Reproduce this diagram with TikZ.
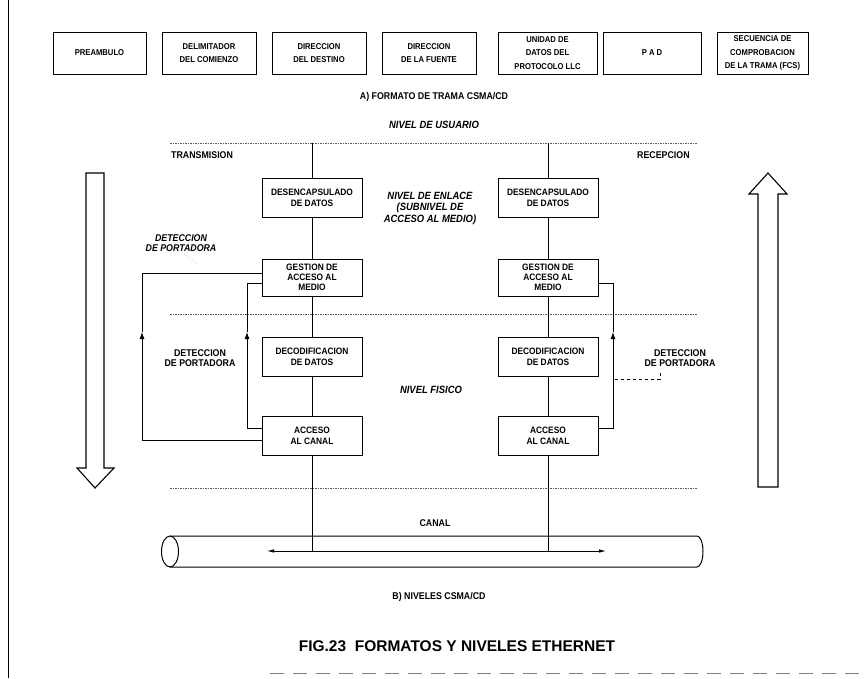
\documentclass[tikz,border=0pt]{standalone}
\usepackage{fontspec}
\setmainfont{Liberation Sans}[FakeStretch=0.9]
\newfontfamily\titlefont{Liberation Sans}
\usetikzlibrary{arrows.meta,calc}
\newcommand\bxfont{\fontsize{9.3}{11}\selectfont\bfseries}
\newcommand\topfont{\fontsize{8.5}{13.5}\selectfont\bfseries}
\newcommand\lbfont{\fontsize{9.8}{10.5}\selectfont\bfseries}
\begin{document}
\begin{tikzpicture}[x=1pt,y=-1pt,
  box/.style={draw, line width=0.8pt, align=center, inner sep=1pt, font=\bxfont},
  fbox/.style={box, font=\topfont, minimum height=42pt},
  cbox/.style={box, minimum width=100pt, minimum height=39pt},
  lbl/.style={align=center, inner sep=1pt, font=\lbfont},
  ilbl/.style={align=center, inner sep=1pt, font=\fontsize{10.5}{11.5}\selectfont\bfseries\itshape},
  lev/.style={gray!70!black, line width=0.5pt, dash pattern=on 1.5pt off 1pt},
  conn/.style={line width=0.8pt},
  fb/.style={line width=0.8pt},
  tip/.style={-{Latex[length=7pt,width=5pt]}},
  big/.style={line width=1.1pt, line join=miter}]
\useasboundingbox (0,0) rectangle (865,678);
% frame lines
\draw[line width=0.8pt] (8,0) -- (8,678);
\draw[gray, line width=0.6pt, dash pattern=on 14pt off 9pt] (270,673) -- (865,673);
% frame format
\node[fbox, minimum width=93pt] (f1) at (99.5,53) {PREAMBULO};
\node[fbox, minimum width=94pt] (f2) at (209,53) {DELIMITADOR\\DEL COMIENZO};
\node[fbox, minimum width=94pt] (f3) at (319,53) {DIRECCION\\DEL DESTINO};
\node[fbox, minimum width=94pt] (f4) at (429,53) {DIRECCION\\DE LA FUENTE};
\node[fbox, minimum width=99pt] (f5) at (547.5,53) {UNIDAD DE\\DATOS DEL\\PROTOCOLO LLC};
\node[fbox, minimum width=98pt] (f6) at (652,53) {P A D};
\node[fbox, minimum width=91pt] (f7) at (762.5,53) {SECUENCIA DE\\COMPROBACION\\DE LA TRAMA (FCS)};
\node[lbl] (capA) at (434,97) {A) FORMATO DE TRAMA CSMA/CD};
% levels
\node[ilbl] (usr) at (434,125) {NIVEL DE USUARIO};
\draw[lev] (170,143) -- (697,143);
\draw[lev] (170,314) -- (697,314);
\draw[lev] (170,488) -- (697,488);
\node[lbl, anchor=west] (tx) at (170,155) {TRANSMISION};
\node[lbl, anchor=west] (rx) at (636,155) {RECEPCION};
\node[ilbl] (enl) at (430,208) {NIVEL DE ENLACE\\(SUBNIVEL DE\\ACCESO AL MEDIO)};
\node[ilbl] (fis) at (431,390) {NIVEL FISICO};
% columns
\node[cbox] (des1) at (312,197.5) {DESENCAPSULADO\\DE DATOS};
\node[cbox, minimum height=37pt, font=\fontsize{9.3}{10}\selectfont\bfseries] (ges1) at (312,277.5) {GESTION DE\\ACCESO AL\\MEDIO};
\node[cbox] (dec1) at (312,356.5) {DECODIFICACION\\DE DATOS};
\node[cbox] (acc1) at (312,436) {ACCESO\\AL CANAL};
\node[cbox] (des2) at (548,197.5) {DESENCAPSULADO\\DE DATOS};
\node[cbox, minimum height=37pt, font=\fontsize{9.3}{10}\selectfont\bfseries] (ges2) at (548,277.5) {GESTION DE\\ACCESO AL\\MEDIO};
\node[cbox] (dec2) at (548,356.5) {DECODIFICACION\\DE DATOS};
\node[cbox] (acc2) at (548,436) {ACCESO\\AL CANAL};
\coordinate (u1) at (312,143);
\coordinate (u2) at (548,143);
\coordinate (ch1) at (267,551);
\coordinate (ch2) at (606,551);
\draw[conn] (u1) -- (des1) -- (ges1) -- (dec1) -- (acc1) -- (acc1.south |- ch1);
\draw[conn] (u2) -- (des2) -- (ges2) -- (dec2) -- (acc2) -- (acc2.south |- ch2);
% carrier detection feedback
\coordinate (aL1) at (142,332);
\coordinate (aL2) at (247,332);
\coordinate (aR) at (613,332);
\draw[fb,tip] ([yshift=-4pt]acc1.west) -| (aL1);
\draw[fb] (aL1) |- ([yshift=4.5pt]ges1.west);
\draw[fb,tip] ([yshift=8pt]acc1.west) -| (aL2);
\draw[fb] (aL2) |- ([yshift=-5.5pt]ges1.west);
\draw[fb,tip] ([yshift=8pt]acc2.east) -| (aR);
\draw[fb] (aR) |- ([yshift=-5.5pt]ges2.east);
\node[ilbl, font=\fontsize{9.8}{10.5}\selectfont\bfseries\itshape] (det1) at (181,243) {DETECCION\\DE PORTADORA};
\draw[gray, dotted, line width=0.5pt] (184,254) -- (197,264);
\node[lbl] (det2) at (200,358) {DETECCION\\DE PORTADORA};
\node[lbl] (det3) at (680,358) {DETECCION\\DE PORTADORA};
\draw[line width=0.5pt, dashed] (615,379) -- (660,379) -- (660,372);
% channel
\node[lbl] (canal) at (435,523) {CANAL};
\draw[line width=1pt] (170,536) -- (697,536) arc[start angle=90, end angle=-90, x radius=6pt, y radius=15.5pt] -- (170,567);
\draw[line width=1pt] (170,551.5) ellipse [x radius=8.5pt, y radius=15.5pt];
\draw[line width=0.8pt, {Latex[length=7pt,width=3.5pt]}-{Latex[length=7pt,width=3.5pt]}] (ch1) -- (ch2);
\node[lbl] (capB) at (439,597) {B) NIVELES CSMA/CD};
% big arrows
\draw[big] (86,173) -- (104,173) -- (104,468) -- (114,468) -- (95,488) -- (77,468) -- (86,468) -- cycle;
\draw[big] (758,487) -- (778,487) -- (778,194) -- (787,194) -- (768,173) -- (749,194) -- (758,194) -- cycle;
% title
\node[font=\titlefont\fontsize{15.5}{18}\selectfont\bfseries, inner sep=0pt] (title) at (457,646) {FIG.23\ \ FORMATOS Y NIVELES ETHERNET};
\end{tikzpicture}
\end{document}
